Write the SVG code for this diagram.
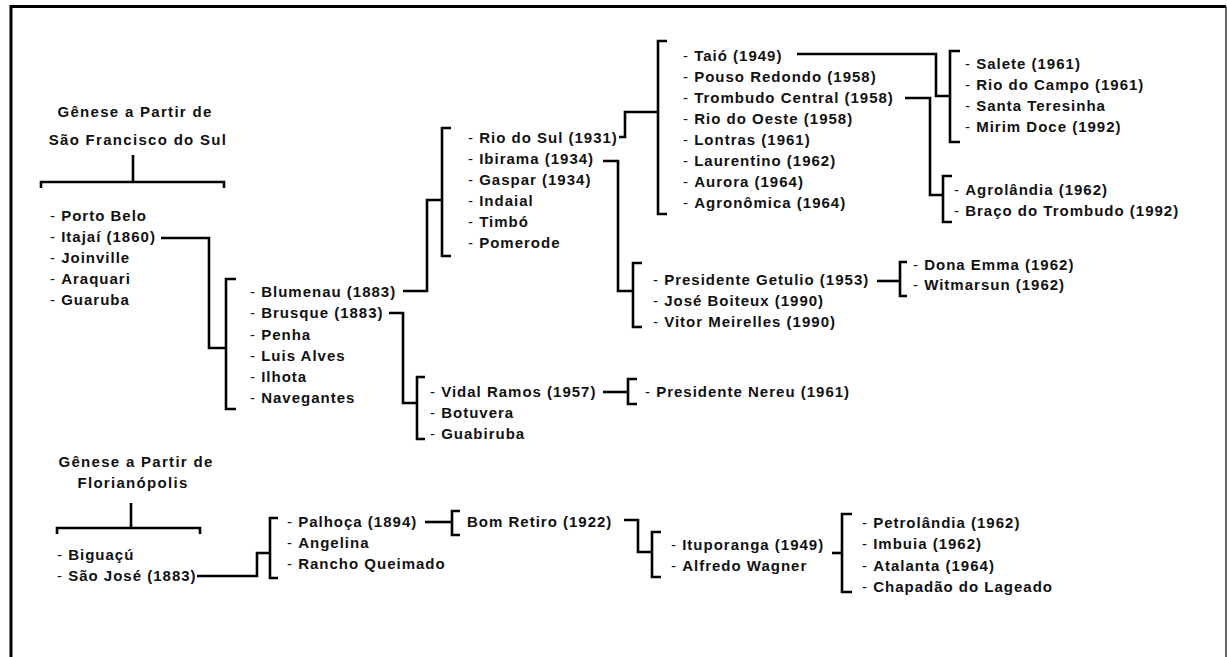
<svg xmlns="http://www.w3.org/2000/svg" width="1227" height="657" viewBox="0 0 1227 657">
<style>
text{font-family:"Liberation Sans",Arial,sans-serif;font-size:15px;font-weight:bold;letter-spacing:1px;fill:#111}
.h{letter-spacing:1.3px;text-anchor:middle}
.d{font-weight:normal}
.c{fill:none;stroke:#000;stroke-width:2.6;stroke-linejoin:miter;stroke-linecap:butt}
</style>
<rect width="1227" height="657" fill="#fff"/>
<g id="frame">
<path d="M11,657 V6.5 H1226" fill="none" stroke="#000" stroke-width="3"/>
<path d="M1226,6.5 V657" fill="none" stroke="#333" stroke-width="1.5"/>
</g>
<g id="connectors" class="c">
<path class="c" d="M133,155 V182 M41,188 V182 H224 V188"/>
<path class="c" d="M161,238 H209 V348 H226"/>
<path class="c" d="M236,279 H226 V409 H236"/>
<path class="c" d="M403,291 H427 V200 H442"/>
<path class="c" d="M451,128 H442 V256 H451"/>
<path class="c" d="M619,137 H625 V112 H658"/>
<path class="c" d="M667,41 H658 V214 H667"/>
<path class="c" d="M797,54 H936 V96 H950"/>
<path class="c" d="M960,51 H950 V142 H960"/>
<path class="c" d="M905,98 H930 V195 H943"/>
<path class="c" d="M952,176 H943 V222 H952"/>
<path class="c" d="M603,161 H618 V291 H633"/>
<path class="c" d="M642,263 H633 V327 H642"/>
<path class="c" d="M877,281 H900"/>
<path class="c" d="M907,262 H900 V296 H907"/>
<path class="c" d="M389,313 H403 V403 H417"/>
<path class="c" d="M425,377 H417 V439 H425"/>
<path class="c" d="M603,392 H628"/>
<path class="c" d="M637,379 H628 V404 H637"/>
<path class="c" d="M131,503 V528 M57,534 V528 H200 V534"/>
<path class="c" d="M197,576 H257 V553 H270"/>
<path class="c" d="M278,518 H270 V578 H278"/>
<path class="c" d="M425,522 H452"/>
<path class="c" d="M460,511 H452 V535 H460"/>
<path class="c" d="M624,520 H638 V552 H652"/>
<path class="c" d="M661,532 H652 V577 H661"/>
<path class="c" d="M832,553 H842"/>
<path class="c" d="M852,514 H842 V592 H852"/>
</g>
<g id="header-sfs">
<text class="h" x="135" y="117">Gênese a Partir de</text>
<text class="h" x="138" y="145">São Francisco do Sul</text>
</g>
<g id="list-sfs">
<text x="50" y="221"><tspan class="d">- </tspan>Porto Belo</text>
<text x="50" y="242"><tspan class="d">- </tspan>Itajaí (1860)</text>
<text x="50" y="263"><tspan class="d">- </tspan>Joinville</text>
<text x="50" y="284"><tspan class="d">- </tspan>Araquari</text>
<text x="50" y="305"><tspan class="d">- </tspan>Guaruba</text>
</g>
<g id="list-itajai">
<text x="250" y="297"><tspan class="d">- </tspan>Blumenau (1883)</text>
<text x="250" y="318"><tspan class="d">- </tspan>Brusque (1883)</text>
<text x="250" y="340"><tspan class="d">- </tspan>Penha</text>
<text x="250" y="361"><tspan class="d">- </tspan>Luis Alves</text>
<text x="250" y="382"><tspan class="d">- </tspan>Ilhota</text>
<text x="250" y="403"><tspan class="d">- </tspan>Navegantes</text>
</g>
<g id="list-blumenau">
<text x="468" y="143"><tspan class="d">- </tspan>Rio do Sul (1931)</text>
<text x="468" y="164"><tspan class="d">- </tspan>Ibirama (1934)</text>
<text x="468" y="185"><tspan class="d">- </tspan>Gaspar (1934)</text>
<text x="468" y="206"><tspan class="d">- </tspan>Indaial</text>
<text x="468" y="227"><tspan class="d">- </tspan>Timbó</text>
<text x="468" y="248"><tspan class="d">- </tspan>Pomerode</text>
</g>
<g id="list-riodosul">
<text x="683" y="61"><tspan class="d">- </tspan>Taió (1949)</text>
<text x="683" y="82"><tspan class="d">- </tspan>Pouso Redondo (1958)</text>
<text x="683" y="103"><tspan class="d">- </tspan>Trombudo Central (1958)</text>
<text x="683" y="124"><tspan class="d">- </tspan>Rio do Oeste (1958)</text>
<text x="683" y="145"><tspan class="d">- </tspan>Lontras (1961)</text>
<text x="683" y="166"><tspan class="d">- </tspan>Laurentino (1962)</text>
<text x="683" y="187"><tspan class="d">- </tspan>Aurora (1964)</text>
<text x="683" y="208"><tspan class="d">- </tspan>Agronômica (1964)</text>
</g>
<g id="list-taio">
<text x="965" y="69"><tspan class="d">- </tspan>Salete (1961)</text>
<text x="965" y="90"><tspan class="d">- </tspan>Rio do Campo (1961)</text>
<text x="965" y="111"><tspan class="d">- </tspan>Santa Teresinha</text>
<text x="965" y="132"><tspan class="d">- </tspan>Mirim Doce (1992)</text>
</g>
<g id="list-trombudo">
<text x="954" y="195"><tspan class="d">- </tspan>Agrolândia (1962)</text>
<text x="954" y="216"><tspan class="d">- </tspan>Braço do Trombudo (1992)</text>
</g>
<g id="list-ibirama">
<text x="653" y="285"><tspan class="d">- </tspan>Presidente Getulio (1953)</text>
<text x="653" y="306"><tspan class="d">- </tspan>José Boiteux (1990)</text>
<text x="653" y="327"><tspan class="d">- </tspan>Vitor Meirelles (1990)</text>
</g>
<g id="list-getulio">
<text x="913" y="270"><tspan class="d">- </tspan>Dona Emma (1962)</text>
<text x="913" y="290"><tspan class="d">- </tspan>Witmarsun (1962)</text>
</g>
<g id="list-brusque">
<text x="430" y="397"><tspan class="d">- </tspan>Vidal Ramos (1957)</text>
<text x="430" y="418"><tspan class="d">- </tspan>Botuvera</text>
<text x="430" y="439"><tspan class="d">- </tspan>Guabiruba</text>
</g>
<g id="list-vidalramos">
<text x="645" y="397"><tspan class="d">- </tspan>Presidente Nereu (1961)</text>
</g>
<g id="header-floripa">
<text class="h" x="136" y="467">Gênese a Partir de</text>
<text class="h" x="133" y="488">Florianópolis</text>
</g>
<g id="list-floripa">
<text x="57" y="560"><tspan class="d">- </tspan>Biguaçú</text>
<text x="57" y="581"><tspan class="d">- </tspan>São José (1883)</text>
</g>
<g id="list-saojose">
<text x="287" y="527"><tspan class="d">- </tspan>Palhoça (1894)</text>
<text x="287" y="548"><tspan class="d">- </tspan>Angelina</text>
<text x="287" y="569"><tspan class="d">- </tspan>Rancho Queimado</text>
</g>
<g id="node-bomretiro">
<text x="467" y="527">Bom Retiro (1922)</text>
</g>
<g id="list-bomretiro">
<text x="671" y="550"><tspan class="d">- </tspan>Ituporanga (1949)</text>
<text x="671" y="571"><tspan class="d">- </tspan>Alfredo Wagner</text>
</g>
<g id="list-ituporanga">
<text x="862" y="528"><tspan class="d">- </tspan>Petrolândia (1962)</text>
<text x="862" y="549"><tspan class="d">- </tspan>Imbuia (1962)</text>
<text x="862" y="571"><tspan class="d">- </tspan>Atalanta (1964)</text>
<text x="862" y="592"><tspan class="d">- </tspan>Chapadão do Lageado</text>
</g>
</svg>
